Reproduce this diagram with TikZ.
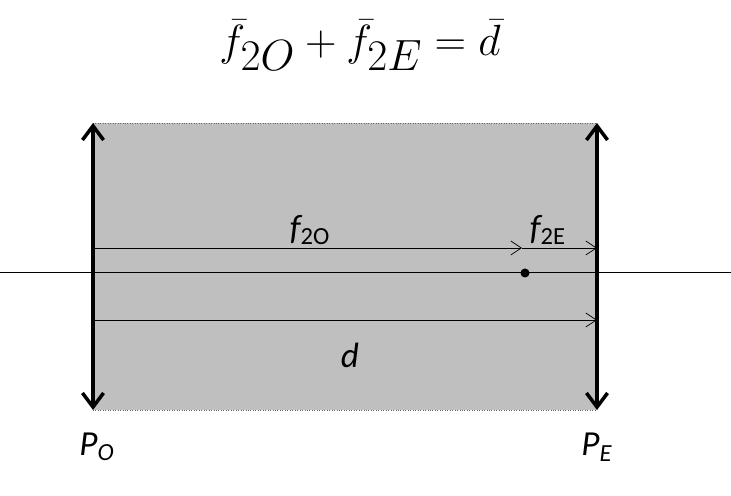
\documentclass[tikz,border=0pt]{standalone}
\usepackage{fontspec}
\setsansfont{Carlito}
\usetikzlibrary{arrows.meta}
\begin{document}
\begin{tikzpicture}[x=0.02cm, y=-0.02cm, >={Stealth[length=7pt, width=6pt]}]
  \tikzset{lens/.style={<->, line width=2pt, >={Straight Barb[length=8pt, width=12pt]}},
           ray/.style={->, >={Straight Barb[length=6pt, width=8pt]}},
           lbl/.style={font=\sffamily\itshape\fontsize{20}{24}\selectfont}}
  \useasboundingbox (0,0) rectangle (731,496);

  \fill[black!25] (93,123) rectangle (597,410);
  \draw[densely dotted, black!60] (93,123) -- (597,123);
  \draw[densely dotted, black!60] (93,410) -- (597,410);

  \coordinate (Otop) at (93,123);
  \coordinate (Obot) at (93,410);
  \coordinate (Etop) at (597,123);
  \coordinate (Ebot) at (597,410);
  \coordinate (AxL) at (0,272);
  \coordinate (AxR) at (731,272);
  \coordinate (F1) at (93,248);
  \coordinate (F2) at (522,248);
  \coordinate (F3) at (597,248);
  \coordinate (D1) at (93,320);
  \coordinate (D2) at (597,320);

  \draw (AxL) -- (AxR);
  \draw[lens] (Otop) -- (Obot);
  \draw[lens] (Etop) -- (Ebot);
  \draw[ray] (F1) -- (F2);
  \draw[ray] (F2) -- (F3);
  \draw[ray] (D1) -- (D2);
  \fill (525,273) circle (4.5);

  \node[lbl] (fo) at (310,230) {f\textsubscript{\upshape 2O}};
  \node[lbl] (fe) at (548,230) {f\textsubscript{\upshape 2E}};
  \node[lbl] (d) at (350,355) {d};
  \node[lbl] (PO) at (97,447) {P\textsubscript{O}};
  \node[lbl] (PE) at (597,447) {P\textsubscript{E}};
  \node (title) at (360,45) {\fontsize{40}{48}\selectfont$\bar{f}_{2O}+\bar{f}_{2E}=\bar{d}$};
\end{tikzpicture}
\end{document}
